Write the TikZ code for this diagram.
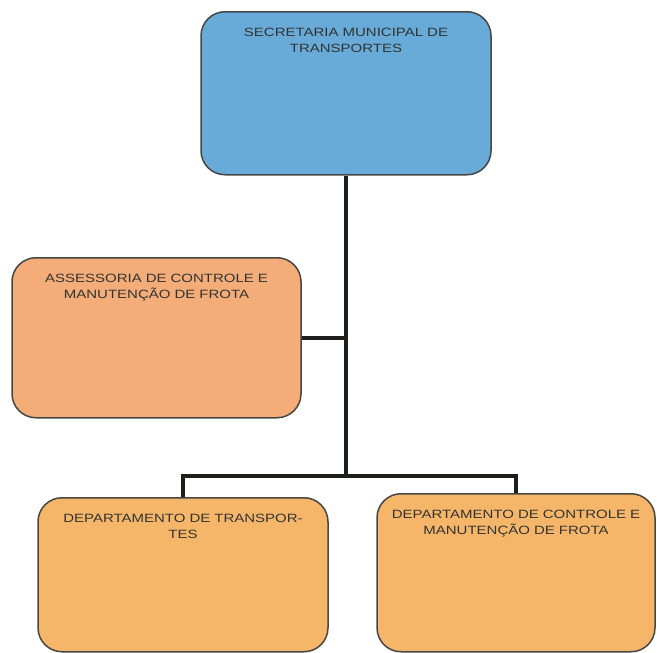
\documentclass[tikz,border=0pt]{standalone}
\usepackage{fontspec}
\setmainfont{Liberation Sans}[FakeStretch=1.25]
\definecolor{secblue}{RGB}{104,170,216}
\definecolor{asorange}{RGB}{244,172,120}
\definecolor{deporange}{RGB}{246,182,106}
\definecolor{boxline}{RGB}{70,70,68}
\definecolor{labelgrey}{RGB}{50,52,50}
\definecolor{linkgrey}{RGB}{28,32,28}
\begin{document}
\begin{tikzpicture}
    [   x=1pt, y=-1pt,
        orgbox/.style={draw=boxline,line width=1.5pt,fill=#1,rounded corners=24pt,
            anchor=north,inner xsep=0pt,inner ysep=0pt,align=center,text=labelgrey,
            font=\fontsize{12}{16}\selectfont,text height=25pt},
        link/.style={draw=linkgrey,line width=3.4pt},
    ]
        \useasboundingbox (0,0) rectangle (657,653);
        \node[orgbox=secblue,text width=290pt,text depth=138pt] (sec) at (346,11)
            {SECRETARIA MUNICIPAL DE\\TRANSPORTES};
        \node[orgbox=asorange,text width=289pt,text depth=135pt] (acm) at (156.5,257)
            {ASSESSORIA DE CONTROLE E\\MANUTENÇÃO DE FROTA};
        \node[orgbox=deporange,text width=290pt,text depth=129pt] (dt) at (183,497)
            {DEPARTAMENTO DE TRANSPOR-\\TES};
        \node[orgbox=deporange,text width=278pt,text depth=133pt] (dcm) at (516,493)
            {DEPARTAMENTO DE CONTROLE E\\MANUTENÇÃO DE FROTA};
        \coordinate (bus) at (0,476);
        % ligacoes
        \draw[link] (sec.south) -- (sec.south |- bus);
        \draw[link] (acm.east |- 0,338) -- (sec.south |- 0,338);
        \draw[link] (dt.north) -- (dt.north |- bus) -- (dcm.north |- bus) -- (dcm.north);
    \end{tikzpicture}
\end{document}
